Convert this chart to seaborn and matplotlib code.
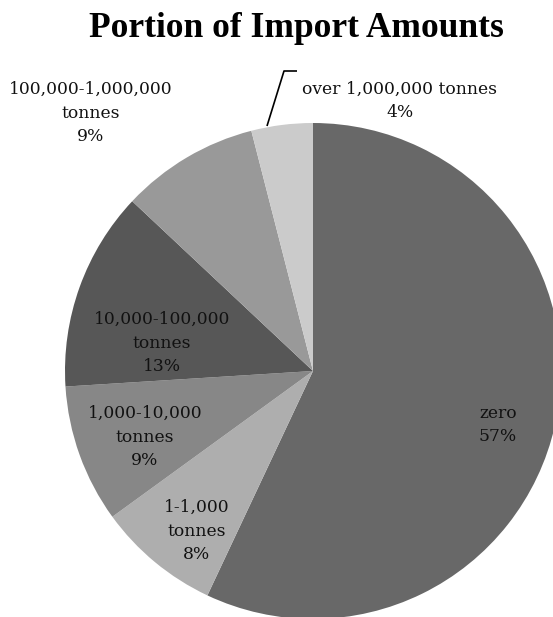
import matplotlib
matplotlib.use("Agg")
import matplotlib.pyplot as plt
import seaborn as sns

sns.set_theme(style="white")

# Share of countries by import amount
categories = [
    "zero",
    "1-1,000\ntonnes",
    "1,000-10,000\ntonnes",
    "10,000-100,000\ntonnes",
    "100,000-1,000,000\ntonnes",
    "over 1,000,000 tonnes",
]
shares = [57, 8, 9, 13, 9, 4]
colors = ["#686868", "#aeaeae", "#878787", "#575757", "#999999", "#cbcbcb"]
title = "Portion of Import Amounts"

W, H = 553, 617
fig = plt.figure(figsize=(W / 100, H / 100), dpi=100)
ax = fig.add_axes([0, 0, 1, 1])

# pixel-based coordinate system (y measured upward)
cx, cy, radius = 313, H - 371, 248
ax.pie(shares, colors=colors, startangle=90, counterclock=False,
       radius=radius, center=(cx, cy), wedgeprops=dict(linewidth=0))
ax.set_xlim(0, W)
ax.set_ylim(0, H)
ax.set_aspect("auto")
ax.axis("off")

# label anchor positions in pixels (x, y from top)
label_pos = [(498, 425), (197, 531), (145, 437), (162, 343), (91, 113), (400, 101)]
label_font = ["DejaVu Serif"]
for cat, val, (px, py) in zip(categories, shares, label_pos):
    ax.text(px, H - py, f"{cat}\n{val}%", ha="center", va="center",
            family=label_font, fontsize=12.3, linespacing=1.5, color="#111111")

# leader line for the small slice label
ax.plot([267, 284, 297], [H - 126, H - 71, H - 71], color="black", lw=1.2,
        solid_capstyle="butt")

ax.text(296, H - 37, title, ha="center", va="baseline",
        family=["Liberation Serif"], fontweight="bold", fontsize=25.5, color="black")

fig.savefig("out.png", dpi=100)
